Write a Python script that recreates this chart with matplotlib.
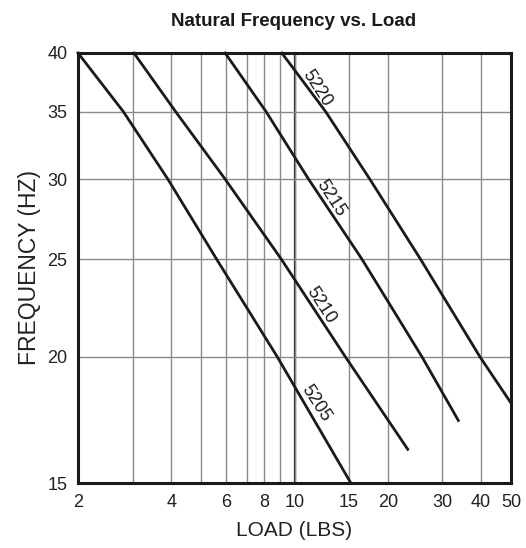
import matplotlib.pyplot as plt
from matplotlib.ticker import FixedLocator, NullFormatter, FixedFormatter

# load (lbs) read where each curve crosses the frequency gridlines
freq_5205 = [40, 35, 30, 25, 20, 15]
load_5205 = [2.0, 2.8, 3.9, 5.6, 8.8, 15.2]

freq_5210 = [40, 35, 30, 25, 20, 16.2]
load_5210 = [3.03, 4.13, 5.97, 9.06, 14.6, 23.2]

freq_5215 = [40, 35, 30, 25, 20, 17.3]
load_5215 = [5.97, 8.09, 11.1, 16.5, 25.8, 33.8]

freq_5220 = [40, 35, 30, 25, 20, 18.0]
load_5220 = [9.1, 12.6, 17.5, 25.5, 39.7, 50]

models = ["5205", "5210", "5215", "5220"]
label_pos = [(11.7, 18.0), (12.2, 22.5), (13.1, 28.7), (11.8, 36.9)]

x_ticks = [2, 4, 6, 8, 10, 15, 20, 30, 40, 50]
x_minor = [3, 5, 7, 9]
y_ticks = [15, 20, 25, 30, 35, 40]

plt.rcParams["font.family"] = ["Liberation Sans", "DejaVu Sans"]

fig = plt.figure(figsize=(5.26, 5.48), dpi=100)
ax = fig.add_axes([0.1483, 0.1186, 0.8232, 0.7847])

ax.set_xscale("log")
ax.set_yscale("log")
ax.set_xlim(2, 50)
ax.set_ylim(15, 40)

ax.xaxis.set_major_locator(FixedLocator(x_ticks))
ax.xaxis.set_major_formatter(FixedFormatter([str(t) for t in x_ticks]))
ax.xaxis.set_minor_locator(FixedLocator(x_minor))
ax.xaxis.set_minor_formatter(NullFormatter())
ax.yaxis.set_major_locator(FixedLocator(y_ticks))
ax.yaxis.set_major_formatter(FixedFormatter([str(t) for t in y_ticks]))
ax.yaxis.set_minor_locator(FixedLocator([]))

ax.grid(True, which="both", axis="x", color="#8a8a8a", linewidth=1.0)
ax.grid(True, which="major", axis="y", color="#8a8a8a", linewidth=1.0)
ax.axvline(10, color="#222222", linewidth=1.6, zorder=1.5)

ax.tick_params(which="both", length=0, labelsize=13, colors="#222222")
ax.tick_params(axis="x", pad=8)
ax.tick_params(axis="y", pad=7.5)

for load, freq in [(load_5205, freq_5205), (load_5210, freq_5210),
                   (load_5215, freq_5215), (load_5220, freq_5220)]:
    ax.plot(load, freq, color="#1a1a1a", linewidth=2.0, clip_on=False, zorder=3)

for name, (lx, ly) in zip(models, label_pos):
    ax.text(lx, ly, name, rotation=-57, ha="center", va="center",
            fontsize=13, color="#1a1a1a", rotation_mode="anchor")

for side in ax.spines.values():
    side.set_linewidth(2.2)
    side.set_color("#1a1a1a")

ax.set_xlabel("LOAD (LBS)", fontsize=15, labelpad=7, color="#222222")
ax.set_ylabel("FREQUENCY (HZ)", fontsize=16.5, labelpad=5, color="#222222")

fig.text(0.559, 0.96, "Natural Frequency vs. Load", ha="center", va="center",
         fontsize=13.5, fontweight="bold", color="#1a1a1a")

fig.savefig("out.png", dpi=100, facecolor="white")
